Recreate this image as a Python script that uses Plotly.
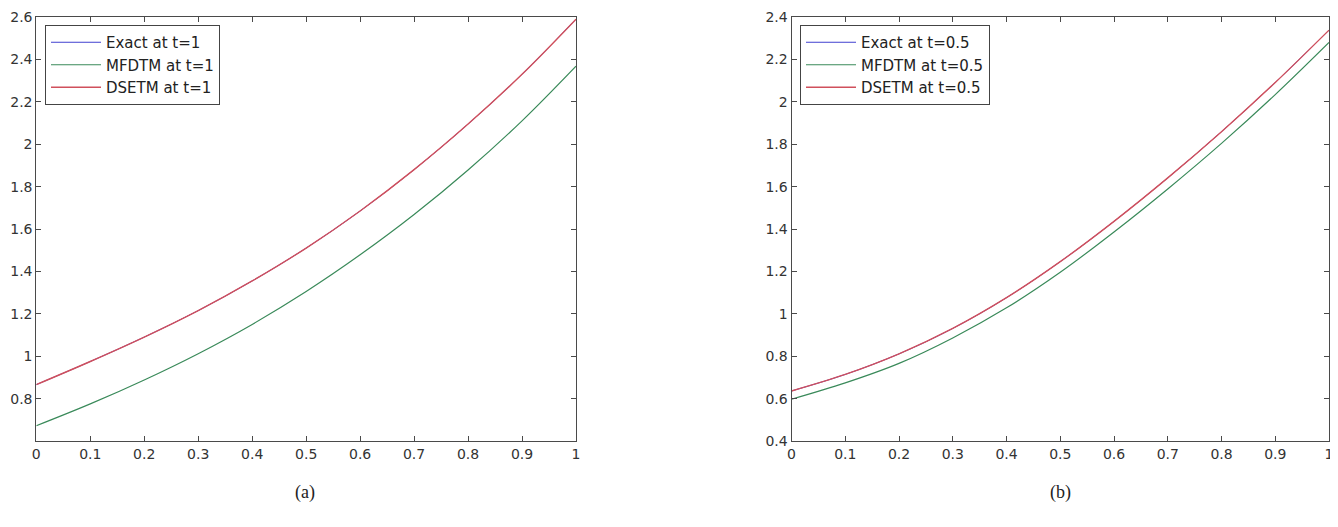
import plotly.graph_objects as go

x_vals = [0, 0.1, 0.2, 0.3, 0.4, 0.5, 0.6, 0.7, 0.8, 0.9, 1.0]

# Panel (a): t = 1
exact_a = [0.866, 0.975, 1.090, 1.215, 1.355, 1.510, 1.685, 1.880, 2.095, 2.330, 2.590]
mfdtm_a = [0.672, 0.775, 0.888, 1.012, 1.150, 1.305, 1.478, 1.668, 1.878, 2.110, 2.368]
dsetm_a = [0.866, 0.975, 1.090, 1.215, 1.355, 1.510, 1.685, 1.880, 2.095, 2.330, 2.590]

# Panel (b): t = 0.5
exact_b = [0.636, 0.714, 0.811, 0.931, 1.076, 1.246, 1.436, 1.641, 1.859, 2.091, 2.338]
mfdtm_b = [0.597, 0.674, 0.766, 0.886, 1.028, 1.196, 1.386, 1.589, 1.804, 2.034, 2.280]
dsetm_b = [0.636, 0.714, 0.811, 0.931, 1.076, 1.246, 1.436, 1.641, 1.859, 2.091, 2.338]

x_ticks = [0, 0.1, 0.2, 0.3, 0.4, 0.5, 0.6, 0.7, 0.8, 0.9, 1]
x_tick_text = ["0", "0.1", "0.2", "0.3", "0.4", "0.5", "0.6", "0.7", "0.8", "0.9", "1"]
y_ticks_a = [0.8, 1.0, 1.2, 1.4, 1.6, 1.8, 2.0, 2.2, 2.4, 2.6]
y_tick_text_a = ["0.8", "1", "1.2", "1.4", "1.6", "1.8", "2", "2.2", "2.4", "2.6"]
y_ticks_b = [0.4, 0.6, 0.8, 1.0, 1.2, 1.4, 1.6, 1.8, 2.0, 2.2, 2.4]
y_tick_text_b = ["0.4", "0.6", "0.8", "1", "1.2", "1.4", "1.6", "1.8", "2", "2.2", "2.4"]

BLUE = "#4040d0"
GREEN = "#3a8a5a"
RED = "#d0505c"
FONT = "DejaVu Sans, Arial, sans-serif"

fig = go.Figure()
def add(x, y, name, color, width, xa, ya, lg):
    fig.add_trace(go.Scatter(x=x, y=y, mode="lines", name=name,
                             line=dict(color=color, width=width, shape="spline", smoothing=1.0),
                             xaxis=xa, yaxis=ya, legend=lg))

add(x_vals, exact_a, "Exact at t=1", BLUE, 1.0, "x", "y", "legend")
add(x_vals, mfdtm_a, "MFDTM at t=1", GREEN, 1.2, "x", "y", "legend")
add(x_vals, dsetm_a, "DSETM at t=1", RED, 1.4, "x", "y", "legend")
add(x_vals, exact_b, "Exact at t=0.5", BLUE, 1.0, "x2", "y2", "legend2")
add(x_vals, mfdtm_b, "MFDTM at t=0.5", GREEN, 1.2, "x2", "y2", "legend2")
add(x_vals, dsetm_b, "DSETM at t=0.5", RED, 1.4, "x2", "y2", "legend2")

# page has an 8px body margin: figure is offset by 8px
OFF = 8
W, H = 1338 - OFF, 527 - 2 * OFF
def px(v):
    return (v - OFF) / W
def py(v):
    return 1 - (v - OFF) / H

axis_common = dict(showline=True, linecolor="#4a4a4a", linewidth=1, mirror="allticks",
                   ticks="inside", ticklen=5, tickcolor="#4a4a4a", showgrid=False,
                   zeroline=False, automargin=False,
                   tickfont=dict(family=FONT, size=14, color="#333333"))

legend_common = dict(bgcolor="white", bordercolor="#444444", borderwidth=1,
                     font=dict(family=FONT, size=15, color="#222222"),
                     xanchor="left", yanchor="top", tracegroupgap=0, itemwidth=50)

fig.update_layout(
    width=W, height=H,
    margin=dict(l=0, r=0, t=0, b=0),
    paper_bgcolor="white", plot_bgcolor="white",
    showlegend=True,
    xaxis=dict(domain=[px(36.3), px(576)], range=[0, 1], tickvals=x_ticks, ticktext=x_tick_text,
               anchor="y", **axis_common),
    yaxis=dict(domain=[py(441), py(17)], range=[0.6, 2.6], tickvals=y_ticks_a, ticktext=y_tick_text_a,
               anchor="x", **axis_common),
    xaxis2=dict(domain=[px(791.5), px(1329)], range=[0, 1], tickvals=x_ticks, ticktext=x_tick_text,
                anchor="y2", **axis_common),
    yaxis2=dict(domain=[py(441), py(17)], range=[0.4, 2.4], tickvals=y_ticks_b, ticktext=y_tick_text_b,
                anchor="x2", **axis_common),
    legend=dict(x=px(45), y=py(25), **legend_common),
    legend2=dict(x=px(800), y=py(25), **legend_common),
    annotations=[
        dict(text="(a)", x=px(305), y=py(492), xref="paper", yref="paper", showarrow=False,
             xanchor="center", yanchor="middle",
             font=dict(family="Liberation Serif, Times New Roman, serif", size=18, color="#222222")),
        dict(text="(b)", x=px(1060), y=py(492), xref="paper", yref="paper", showarrow=False,
             xanchor="center", yanchor="middle",
             font=dict(family="Liberation Serif, Times New Roman, serif", size=18, color="#222222")),
    ],
)

fig.write_html("out.html")
